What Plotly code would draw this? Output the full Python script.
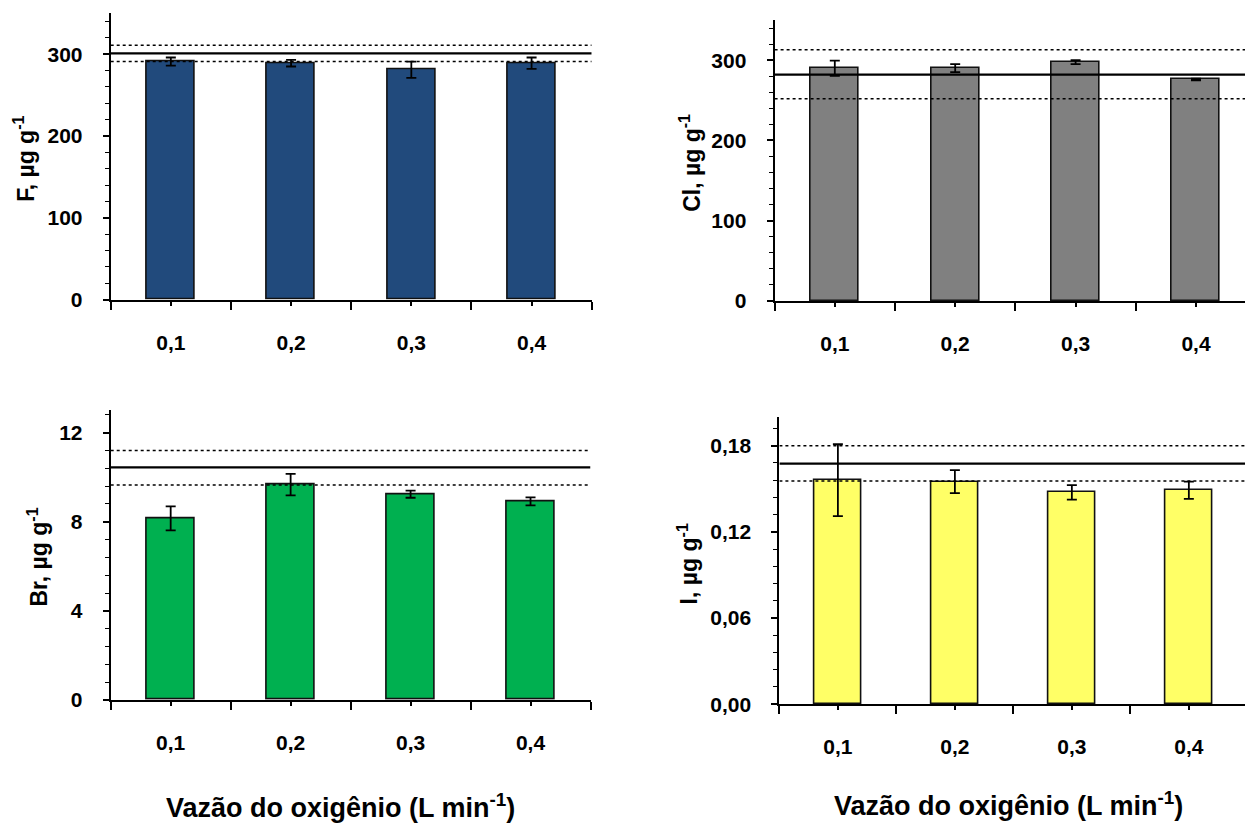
import plotly.graph_objects as go

# ---------------- data ----------------
categories = ["0,1", "0,2", "0,3", "0,4"]

f_values = [291, 289, 281, 289]
f_errors = [5, 4, 10, 7]
f_ref = [301, 311, 291]          # mean, upper, lower

cl_values = [290, 290, 297.5, 276]
cl_errors = [9.5, 5, 2.5, 1]
cl_ref = [282, 313, 252]

br_values = [8.15, 9.67, 9.24, 8.92]
br_errors = [0.54, 0.48, 0.16, 0.18]
br_ref = [10.44, 11.2, 9.65]

i_values = [0.156, 0.155, 0.1475, 0.149]
i_errors = [0.025, 0.008, 0.005, 0.006]
i_ref = [0.1675, 0.180, 0.1555]

f_ticks = [0, 100, 200, 300]
cl_ticks = [0, 100, 200, 300]
br_ticks = [0, 4, 8, 12]
i_ticks = [0.00, 0.06, 0.12, 0.18]

x_title = "Vazão do oxigênio (L min<sup>-1</sup>)"

# ---------------- layout constants ----------------
W, H = 1245, 827
FONT = "Arial, Liberation Sans, sans-serif"

panels = [
    dict(name="F", vals=f_values, errs=f_errors, ref=f_ref, color="#214A7C",
         ticks=f_ticks, rng=[0, 350], minor=20, fmt="d",
         xdom=[110.7, 591.7], ydom=[303.7, 13.5], xr=[-0.5, 3.5],
         title="F, µg g<sup>-1</sup>", tpos=(24, 161)),
    dict(name="Cl", vals=cl_values, errs=cl_errors, ref=cl_ref, color="#808080",
         ticks=cl_ticks, rng=[0, 350], minor=20, fmt="d",
         xdom=[774.6, 1245], ydom=[305, 20.3], xr=[-0.5, 3.407],
         title="Cl, µg g<sup>-1</sup>", tpos=(690, 165)),
    dict(name="Br", vals=br_values, errs=br_errors, ref=br_ref, color="#00B050",
         ticks=br_ticks, rng=[0, 13], minor=0.8, fmt="d",
         xdom=[110.7, 590.5], ydom=[709.3, 416], xr=[-0.5, 3.5],
         title="Br, µg g<sup>-1</sup>", tpos=(38, 565)),
    dict(name="I", vals=i_values, errs=i_errors, ref=i_ref, color="#FFFF66",
         ticks=i_ticks, rng=[0, 0.2], minor=0.012, fmt=".2f",
         xdom=[779.4, 1245], ydom=[713.7, 422.6], xr=[-0.5, 3.48],
         title="I, µg g<sup>-1</sup>", tpos=(688, 572)),
]

fig = go.Figure()
xpos = list(range(len(categories)))

for k, p in enumerate(panels):
    n = "" if k == 0 else str(k + 1)
    xa, ya = "x" + n, "y" + n
    fig.add_trace(go.Bar(
        x=xpos, y=p["vals"], width=0.4, xaxis=xa, yaxis=ya,
        marker=dict(color=p["color"], line=dict(color="#111111", width=1.6)),
        error_y=dict(type="data", array=p["errs"], color="black",
                     thickness=1.8, width=5),
        showlegend=False, hoverinfo="skip",
    ))
    mean, upper, lower = p["ref"]
    xs = [-0.5, len(categories) - 0.5]
    for val, dash, wd in [(mean, "solid", 2.2), (upper, "dot", 1.5), (lower, "dot", 1.5)]:
        fig.add_trace(go.Scatter(
            x=xs, y=[val, val], mode="lines", xaxis=xa, yaxis=ya,
            line=dict(color="black", width=wd, dash=dash),
            showlegend=False, hoverinfo="skip",
        ))

    xkey = "xaxis" + n
    ykey = "yaxis" + n
    fig.layout[xkey] = dict(
        domain=[p["xdom"][0] / W, p["xdom"][1] / W],
        range=p["xr"], anchor=ya,
        tickmode="array", tickvals=xpos, ticktext=categories,
        ticks="outside", ticklen=4, tickwidth=1.5, tickcolor="black",
        minor=dict(tickmode="linear", tick0=-0.5, dtick=1, ticks="outside",
                   ticklen=8, tickwidth=1.5, tickcolor="black"),
        showline=True, linecolor="black", linewidth=2,
        showgrid=False, zeroline=False, fixedrange=True,
        ticklabelstandoff=19,
        tickfont=dict(family=FONT, size=21, color="black", weight="bold"),
    )
    fig.layout[ykey] = dict(
        domain=[1 - p["ydom"][0] / H, 1 - p["ydom"][1] / H],
        range=p["rng"], anchor=xa,
        tickmode="array", tickvals=p["ticks"],
        tickformat=p["fmt"] if p["fmt"] != "d" else None,
        ticks="outside", ticklen=6, tickwidth=1.5, tickcolor="black",
        minor=dict(tickmode="linear", tick0=0, dtick=p["minor"], ticks="outside",
                   ticklen=4, tickwidth=1.2, tickcolor="black"),
        showline=True, linecolor="black", linewidth=2,
        showgrid=False, zeroline=False, fixedrange=True,
        ticklabelstandoff=16,
        tickfont=dict(family=FONT, size=21, color="black", weight="bold"),
    )
    fig.add_annotation(
        text=p["title"], textangle=-90, showarrow=False,
        x=p["tpos"][0] / W, y=1 - p["tpos"][1] / H, xref="paper", yref="paper",
        xanchor="center", yanchor="middle",
        font=dict(family=FONT, size=23, color="black", weight="bold"),
    )

for cx, cy in [(340, 817), (1008, 815)]:
    fig.add_annotation(
        text=x_title, showarrow=False,
        x=cx / W, y=1 - cy / H, xref="paper", yref="paper",
        xanchor="center", yanchor="middle",
        font=dict(family=FONT, size=27, color="black", weight="bold"),
    )

fig.update_layout(
    width=W, height=H, margin=dict(l=0, r=0, t=0, b=0),
    paper_bgcolor="white", plot_bgcolor="white",
    separators=",.", bargap=0, showlegend=False,
)

fig.write_html("out.html", config={"displayModeBar": False})
